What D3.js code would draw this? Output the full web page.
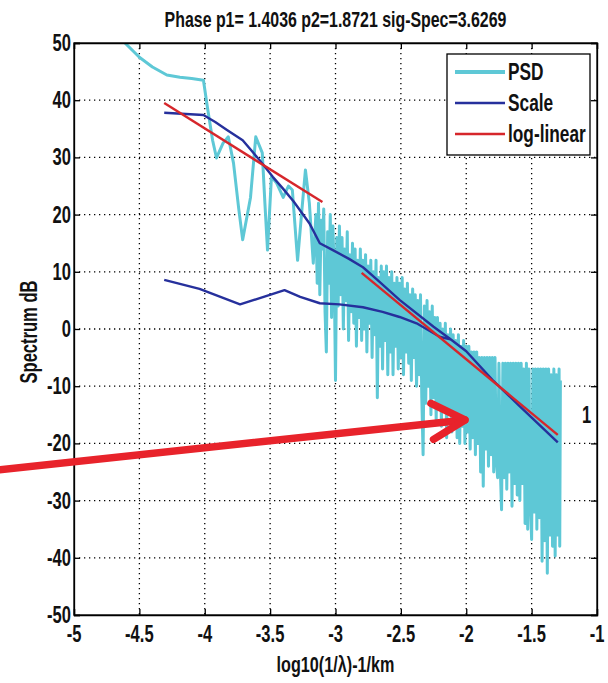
<!DOCTYPE html>
<html><head><meta charset="utf-8">
<script src="https://cdn.jsdelivr.net/npm/d3@7"></script>
<style>html,body{margin:0;padding:0;background:#fff;}svg{display:block;}</style>
</head><body><div id="chart"></div>
<script>
const titleText = "Phase p1= 1.4036 p2=1.8721  sig-Spec=3.6269";
const xLabel = "log10(1/\u03bb)-1/km";
const yLabel = "Spectrum dB";
const xTicks = [-5,-4.5,-4,-3.5,-3,-2.5,-2,-1.5,-1];
const yTicks = [-50,-40,-30,-20,-10,0,10,20,30,40,50];
const seriesNames = ["PSD","Scale","log-linear"];

// PSD: coarse low-frequency part then dense high-frequency part [x, dB]
const psd = [
[-4.70,52],[-4.61,50],[-4.50,47.5],[-4.40,45.8],[-4.29,44.4],[-4.19,44.0],[-4.10,43.8],[-4.01,43.5],
[-3.98,38.8],[-3.94,33],[-3.91,29.9],[-3.86,32.5],[-3.82,33.6],[-3.78,29],[-3.74,21],[-3.71,15.6],
[-3.65,23],[-3.61,33.6],[-3.56,30.8],[-3.54,22],[-3.52,13.8],[-3.49,26.6],[-3.45,25.5],[-3.40,23],
[-3.36,25],[-3.33,24.3],[-3.29,12],[-3.26,20],[-3.23,27.8],[-3.20,22],[-3.17,11.5],[-3.15,20],
[-3.14,8],[-3.13,22],[-3.12,6],[-3.11,19],[-3.10,14],[-3.09,21],[-3.08,3],[-3.07,-4],[-3.06,17],[-3.05,8],
[-3.04,20],[-3.03,2],[-3.02,18],[-3.01,10],[-3.00,-9],[-2.99,16],[-2.98,4],[-2.97,18],[-2.96,6],[-2.95,16],
[-2.94,0],[-2.93,14],[-2.92,5],[-2.91,17],[-2.90,-2],[-2.89,13],[-2.88,3],[-2.87,15],[-2.86,1],[-2.85,14],
[-2.84,-3],[-2.83,12],[-2.82,2],[-2.81,14],[-2.80,-2],[-2.79,12],[-2.78,0],[-2.77,13],[-2.76,-4],[-2.75,11],
[-2.74,1],[-2.73,12],[-2.72,-5],[-2.71,10],[-2.70,-1],[-2.69,12],[-2.68,-12],[-2.67,9],[-2.66,-3],[-2.65,11],
[-2.64,-7],[-2.63,10],[-2.62,-2],[-2.61,11],[-2.60,-8],[-2.59,9],[-2.58,-4],[-2.57,10],[-2.56,-8],[-2.55,8],
[-2.54,-3],[-2.53,9],[-2.52,-7],[-2.51,8],[-2.50,-5],[-2.49,9],[-2.48,-8],[-2.47,7],[-2.46,-4],[-2.45,8],
[-2.44,-6],[-2.43,6],[-2.42,-9],[-2.41,7],[-2.40,-5],[-2.39,6],[-2.38,-10],[-2.37,5],[-2.36,-8],[-2.35,6],
[-2.34,-12],[-2.33,-22],[-2.32,4],[-2.31,-13],[-2.30,5],[-2.29,-10],[-2.28,3],[-2.27,-15],[-2.26,4],[-2.25,-12],
[-2.24,2],[-2.23,-16],[-2.22,2],[-2.21,-13],[-2.20,1],[-2.19,-17],[-2.18,0],[-2.17,-14],[-2.16,1],[-2.15,-19],
[-2.14,-1],[-2.13,-15],[-2.12,0],[-2.11,-18],[-2.10,-1],[-2.09,-16],[-2.08,-2],[-2.07,-19],[-2.06,-1],[-2.05,-20],
[-2.04,-3],[-2.03,-17],[-2.02,-2],[-2.01,-20],[-2.00,-3],[-1.99,-18],[-1.98,-3],[-1.97,-21],[-1.96,-4],[-1.95,-19],
[-1.94,-4],[-1.93,-22],[-1.92,-4],[-1.91,-20],[-1.90,-5],[-1.89,-25],[-1.88,-5],[-1.87,-27.5],[-1.86,-5],[-1.85,-21],
[-1.84,-5],[-1.83,-24],[-1.82,-5],[-1.81,-22],[-1.80,-5],[-1.79,-25],[-1.78,-5],[-1.77,-23],[-1.76,-26],[-1.75,-6],
[-1.74,-24],[-1.73,-31.6],[-1.72,-6],[-1.71,-26],[-1.70,-6],[-1.69,-28],[-1.68,-6],[-1.67,-25],[-1.66,-6],[-1.65,-31],
[-1.64,-6],[-1.63,-27],[-1.62,-6],[-1.61,-29],[-1.60,-6],[-1.59,-30],[-1.58,-6],[-1.57,-27],[-1.56,-7],[-1.55,-34],
[-1.54,-6],[-1.53,-35],[-1.52,-7],[-1.51,-30],[-1.50,-36.8],[-1.49,-7],[-1.48,-32],[-1.47,-7],[-1.46,-35],[-1.45,-7],
[-1.44,-33],[-1.43,-7],[-1.42,-40.6],[-1.41,-7],[-1.40,-37],[-1.39,-7],[-1.38,-42.7],[-1.37,-7],[-1.36,-36],[-1.35,-8],
[-1.34,-38],[-1.33,-7],[-1.32,-39.7],[-1.31,-8],[-1.30,-36],[-1.29,-7],[-1.285,-38],[-1.28,-9]
];

const scaleUpper = [
[-4.31,37.8],[-4.01,37.4],[-3.92,36.2],[-3.83,34.8],[-3.71,33],[-3.58,29.5],[-3.48,26.6],[-3.40,24.5],
[-3.32,22.3],[-3.20,18.5],[-3.12,15],[-3.02,13.8],[-2.90,12.3],[-2.79,10.8],[-2.68,8.6],[-2.51,5.1],
[-2.25,0.4],[-2.12,-1.8],[-2.00,-3.9],[-1.80,-8.9],[-1.60,-13.3],[-1.30,-19.8]
];
const scaleLower = [
[-4.31,8.6],[-4.04,7.0],[-3.73,4.3],[-3.39,6.8],[-3.27,5.6],[-3.12,4.5],[-2.97,4.3],[-2.79,3.8],
[-2.64,3.0],[-2.51,2.1],[-2.38,1.0],[-2.20,-1.4],[-2.12,-1.8]
];
const logLinear1 = [[-4.31,39.5],[-3.10,22.2]];
const logLinear2 = [[-2.80,9.8],[-1.30,-18.5]];
const arrowPts = [[-5.57,-24.6],[-2.01,-15.9]];
const arrowHead = [[-2.27,-13.0],[-2.01,-15.9],[-2.25,-19.3]];
const sideLabel = {x:-1.08, y:-15, text:"1"};

const W = 608, H = 683;
const m = {l:74, r:597, t:43, b:615};
const FONT = "'Liberation Sans Narrow','Liberation Sans','Arial Narrow',Arial,sans-serif";
const SX = 0.72;

const svg = d3.select("#chart").append("svg").attr("width",W).attr("height",H);
const x = d3.scaleLinear().domain([-5,-1]).range([m.l,m.r]);
const y = d3.scaleLinear().domain([-50,50]).range([m.b,m.t]);

const C_PSD = "#5ec8d6", C_SCALE = "#26309c", C_RED = "#d6262b", C_ARROW = "#e8232b";

svg.append("defs").append("clipPath").attr("id","clip")
  .append("rect").attr("x",m.l).attr("y",m.t).attr("width",m.r-m.l).attr("height",m.b-m.t);

// grid
const grid = svg.append("g").attr("stroke","#000").attr("stroke-width",1.3).attr("stroke-dasharray","1.3,3.7");
grid.selectAll(".gx").data(xTicks.slice(1,-1)).join("line")
  .attr("x1",d=>x(d)).attr("x2",d=>x(d)).attr("y1",m.t).attr("y2",m.b);
grid.selectAll(".gy").data(yTicks.slice(1,-1)).join("line")
  .attr("y1",d=>y(d)).attr("y2",d=>y(d)).attr("x1",m.l).attr("x2",m.r);

const line = d3.line().x(d=>x(d[0])).y(d=>y(d[1]));
const data = svg.append("g").attr("clip-path","url(#clip)").attr("fill","none").attr("stroke-linejoin","round");
data.append("path").datum(psd).attr("d",line).attr("stroke",C_PSD).attr("stroke-width",3);
data.append("path").datum(scaleUpper).attr("d",line).attr("stroke",C_SCALE).attr("stroke-width",2.4);
data.append("path").datum(scaleLower).attr("d",line).attr("stroke",C_SCALE).attr("stroke-width",2.4);
data.append("path").datum(logLinear1).attr("d",line).attr("stroke",C_RED).attr("stroke-width",2.4);
data.append("path").datum(logLinear2).attr("d",line).attr("stroke",C_RED).attr("stroke-width",2.4);

// axes with inward ticks on all sides
const tk = 6;
svg.append("g").attr("transform",`translate(0,${m.b})`).call(d3.axisBottom(x).tickValues(xTicks).tickSize(-tk).tickFormat(""));
svg.append("g").attr("transform",`translate(0,${m.t})`).call(d3.axisTop(x).tickValues(xTicks).tickSize(-tk).tickFormat(""));
svg.append("g").attr("transform",`translate(${m.l},0)`).call(d3.axisLeft(y).tickValues(yTicks).tickSize(-tk).tickFormat(""));
svg.append("g").attr("transform",`translate(${m.r},0)`).call(d3.axisRight(y).tickValues(yTicks).tickSize(-tk).tickFormat(""));
svg.selectAll(".domain").attr("stroke","#000").attr("stroke-width",1.3);
svg.selectAll(".tick line").attr("stroke","#000").attr("stroke-width",1.3);
svg.append("rect").attr("x",m.l).attr("y",m.t).attr("width",m.r-m.l).attr("height",m.b-m.t)
  .attr("fill","none").attr("stroke","#000").attr("stroke-width",1.3);

function txt(px,py,s,size,anchor,rot,sx){
  return svg.append("text")
    .attr("transform",`translate(${px},${py})${rot?` rotate(${rot})`:""} scale(${sx||SX},1)`)
    .attr("font-family",FONT).attr("font-weight","bold").attr("font-size",size)
    .attr("text-anchor",anchor).attr("fill","#111").text(s);
}
function fitted(px,py,s,size,width){
  const t = txt(px,py,s,size,"middle",0,1);
  const w = t.node().getComputedTextLength();
  t.attr("transform",`translate(${px},${py}) scale(${width/w},1)`);
  return t;
}
// tick labels
xTicks.forEach(v=>txt(x(v), 642, String(v), 23, "middle"));
yTicks.forEach(v=>txt(m.l-3, y(v)+8, String(v), 23, "end"));

// title and axis labels
fitted((m.l+m.r)/2, 27, titleText, 22, 342);
fitted((m.l+m.r)/2, 672, xLabel, 22, 118);
txt(37, 332, yLabel, 23, "middle", -90);

// legend
const lg = svg.append("g");
lg.append("rect").attr("x",447).attr("y",54).attr("width",143).attr("height",101)
  .attr("fill","#fff").attr("stroke","#000").attr("stroke-width",1.3);
const lgColors = [C_PSD, C_SCALE, C_RED], lgW = [4,2.6,2.6], lgY = [72,103,134];
seriesNames.forEach((n,i)=>{
  lg.append("line").attr("x1",455).attr("x2",505).attr("y1",lgY[i]).attr("y2",lgY[i])
    .attr("stroke",lgColors[i]).attr("stroke-width",lgW[i]);
  txt(508, lgY[i]+8, n, 24, "start");
});

// side label "1"
txt(x(sideLabel.x), y(sideLabel.y)+8, sideLabel.text, 23, "middle");

// arrow annotation
const ag = svg.append("g").attr("fill","none").attr("stroke",C_ARROW).attr("stroke-width",7.5)
  .attr("stroke-linecap","round").attr("stroke-linejoin","round");
ag.append("path").datum(arrowPts).attr("d",line);
ag.append("path").datum(arrowHead).attr("d",line);
</script>
</body></html>
